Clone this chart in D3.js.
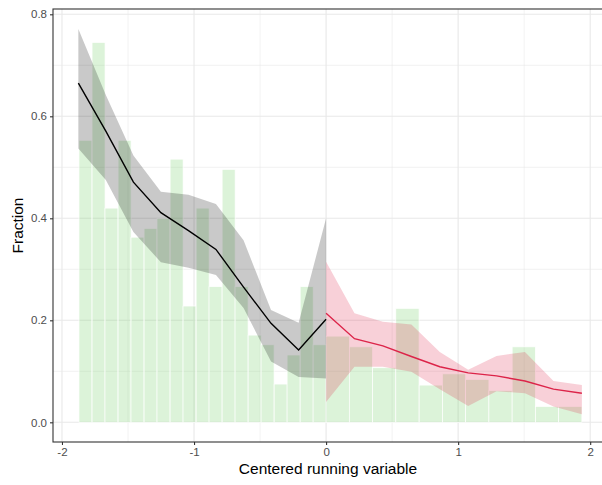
<!DOCTYPE html>
<html>
<head>
<meta charset="utf-8">
<script src="https://cdn.jsdelivr.net/npm/d3@7"></script>
<style>
  body { margin: 0; background: #fff; }
  svg { display: block; font-family: "Liberation Sans", Arial, sans-serif; }
</style>
</head>
<body>
<div id="chart"></div>
<script>
// histogram bars, left of cutoff
const leftMid = [-1.822, -1.723, -1.625, -1.526, -1.428, -1.329, -1.231, -1.132, -1.034, -0.935,
                 -0.837, -0.738, -0.640, -0.541, -0.443, -0.344, -0.246, -0.147, -0.049];
const leftShare = [0.553, 0.745, 0.420, 0.553, 0.363, 0.380, 0.400, 0.516, 0.228, 0.420,
                   0.266, 0.496, 0.266, 0.171, 0.152, 0.075, 0.132, 0.266, 0.152];
// histogram bars, right of cutoff
const rightMid = [0.088, 0.264, 0.440, 0.616, 0.793, 0.969, 1.145, 1.321, 1.497, 1.673, 1.849];
const rightShare = [0.169, 0.148, 0.107, 0.2235, 0.073, 0.095, 0.084, 0.062, 0.148, 0.031, 0.031];

// fitted line + band, left
const fitLeftX = [-1.876, -1.668, -1.459, -1.251, -1.042, -0.834, -0.625, -0.417, -0.208, 0];
const fitLeftY = [0.665, 0.571, 0.471, 0.411, 0.376, 0.339, 0.265, 0.194, 0.142, 0.202];
const fitLeftHi = [0.771, 0.642, 0.523, 0.452, 0.446, 0.428, 0.357, 0.220, 0.195, 0.400];
const fitLeftLo = [0.537, 0.475, 0.373, 0.314, 0.303, 0.289, 0.224, 0.119, 0.089, 0.086];

// fitted line + band, right
const fitRightX = [0, 0.215, 0.430, 0.646, 0.861, 1.076, 1.291, 1.506, 1.722, 1.937];
const fitRightY = [0.214, 0.164, 0.150, 0.129, 0.109, 0.097, 0.091, 0.081, 0.065, 0.057];
const fitRightHi = [0.315, 0.214, 0.197, 0.192, 0.138, 0.103, 0.130, 0.138, 0.081, 0.073];
const fitRightLo = [0.040, 0.109, 0.109, 0.099, 0.065, 0.032, 0.061, 0.057, 0.031, 0.016];

const xTicks = [-2, -1, 0, 1, 2];
const yTicks = [0, 0.2, 0.4, 0.6, 0.8];

const width = 602, height = 485;
const panel = {left: 53, right: 603, top: 9, bottom: 442};

const x = d3.scaleLinear().domain([-2.068, 2.097]).range([panel.left, panel.right]);
const y = d3.scaleLinear().domain([-0.0386, 0.8104]).range([panel.bottom, panel.top]);

const svg = d3.select("#chart").append("svg")
    .attr("width", width)
    .attr("height", height);

svg.append("defs").append("clipPath").attr("id", "clip")
  .append("rect")
    .attr("x", panel.left).attr("y", panel.top)
    .attr("width", panel.right - panel.left).attr("height", panel.bottom - panel.top);

// grid
const grid = svg.append("g");
const xMinor = [-1.5, -0.5, 0.5, 1.5];
const yMinor = [0.1, 0.3, 0.5, 0.7];
grid.selectAll(".xminor").data(xMinor).join("line")
    .attr("x1", d => x(d)).attr("x2", d => x(d))
    .attr("y1", panel.top).attr("y2", panel.bottom)
    .attr("stroke", "#e8e8e8").attr("stroke-width", 0.55);
grid.selectAll(".yminor").data(yMinor).join("line")
    .attr("y1", d => y(d)).attr("y2", d => y(d))
    .attr("x1", panel.left).attr("x2", panel.right)
    .attr("stroke", "#e8e8e8").attr("stroke-width", 0.55);
grid.selectAll(".xmajor").data(xTicks).join("line")
    .attr("x1", d => x(d)).attr("x2", d => x(d))
    .attr("y1", panel.top).attr("y2", panel.bottom)
    .attr("stroke", "#e8e8e8").attr("stroke-width", 1.1);
grid.selectAll(".ymajor").data(yTicks).join("line")
    .attr("y1", d => y(d)).attr("y2", d => y(d))
    .attr("x1", panel.left).attr("x2", panel.right)
    .attr("stroke", "#e8e8e8").attr("stroke-width", 1.1);

const plot = svg.append("g").attr("clip-path", "url(#clip)");

// bars
const bars = [
  ...leftMid.map((m, i) => ({mid: m, w: 0.0985, v: leftShare[i]})),
  ...rightMid.map((m, i) => ({mid: m, w: 0.1761, v: rightShare[i]}))
];
plot.append("g")
  .selectAll("rect")
  .data(bars)
  .join("rect")
    .attr("x", d => x(d.mid - d.w / 2))
    .attr("width", d => x(d.mid + d.w / 2) - x(d.mid - d.w / 2))
    .attr("y", d => y(d.v))
    .attr("height", d => y(0) - y(d.v))
    .attr("fill", "rgb(120,210,110)")
    .attr("fill-opacity", 0.26)
    .attr("stroke", "white")
    .attr("stroke-width", 0.7);

// ribbons
const area = d3.area().x(d => x(d.x)).y0(d => y(d.lo)).y1(d => y(d.hi));
const line = d3.line().x(d => x(d.x)).y(d => y(d.y));

const left = fitLeftX.map((v, i) => ({x: v, y: fitLeftY[i], hi: fitLeftHi[i], lo: fitLeftLo[i]}));
const right = fitRightX.map((v, i) => ({x: v, y: fitRightY[i], hi: fitRightHi[i], lo: fitRightLo[i]}));

plot.append("path").datum(left)
    .attr("d", area)
    .attr("fill", "#000").attr("fill-opacity", 0.21);
plot.append("path").datum(right)
    .attr("d", area)
    .attr("fill", "#dc143c").attr("fill-opacity", 0.2);

plot.append("path").datum(left)
    .attr("d", line)
    .attr("fill", "none").attr("stroke", "#000").attr("stroke-width", 1.4);
plot.append("path").datum(right)
    .attr("d", line)
    .attr("fill", "none").attr("stroke", "#dc2449").attr("stroke-width", 1.4);

// panel border
svg.append("rect")
    .attr("x", panel.left).attr("y", panel.top)
    .attr("width", panel.right - panel.left).attr("height", panel.bottom - panel.top)
    .attr("fill", "none").attr("stroke", "#333").attr("stroke-width", 1.1);

// axes
const xAxis = svg.append("g")
    .attr("transform", `translate(0,${panel.bottom})`)
    .call(d3.axisBottom(x).tickValues(xTicks).tickSize(3).tickPadding(3)
      .tickFormat(d => String(d)));
const yAxis = svg.append("g")
    .attr("transform", `translate(${panel.left},0)`)
    .call(d3.axisLeft(y).tickValues(yTicks).tickSize(3).tickPadding(3)
      .tickFormat(d3.format(".1f")));
[xAxis, yAxis].forEach(a => {
  a.select(".domain").remove();
  a.selectAll(".tick line").attr("stroke", "#333").attr("stroke-width", 1.1);
  a.selectAll(".tick text").attr("fill", "#4d4d4d").style("font-size", "11.5px");
});

svg.append("text")
    .attr("x", (panel.left + panel.right) / 2)
    .attr("y", 474)
    .attr("text-anchor", "middle")
    .style("font-size", "15.5px")
    .attr("fill", "#000")
    .text("Centered running variable");

svg.append("text")
    .attr("transform", `translate(23,${(panel.top + panel.bottom) / 2}) rotate(-90)`)
    .attr("text-anchor", "middle")
    .style("font-size", "15.5px")
    .attr("fill", "#000")
    .text("Fraction");
</script>
</body>
</html>
